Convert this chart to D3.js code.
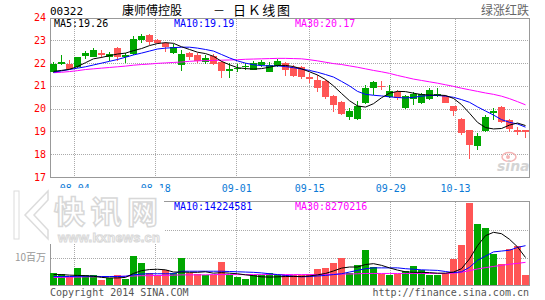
<!DOCTYPE html>
<html>
<head>
<meta charset="utf-8">
<script src="https://cdn.jsdelivr.net/npm/d3@7"></script>
<style>
body { margin: 0; background: #fff; }
text { font-family: "DejaVu Sans Mono", monospace; font-size: 10px; }
.cjk { font-family: "Noto Sans CJK SC", sans-serif; }
</style>
</head>
<body>
<div id="chart"></div>
<script>
const dates = ["07-30","07-31","08-01","08-04","08-05","08-06","08-07","08-08","08-11","08-12",
    "08-13","08-14","08-15","08-18","08-19","08-20","08-21","08-22","08-25","08-26",
    "08-27","08-28","08-29","09-01","09-02","09-03","09-04","09-05","09-08","09-10",
    "09-11","09-12","09-15","09-16","09-17","09-18","09-19","09-22","09-23","09-24",
    "09-25","09-26","09-29","09-30","10-03","10-06","10-07","10-08","10-09","10-10",
    "10-13","10-14","10-15","10-16","10-17","10-20","10-21","10-22","10-23","10-24"]

const open = [21.63,21.95,21.96,21.84,22.33,22.28,22.46,22.28,22.68,22.25,
    22.38,23.02,23.24,23.0,22.87,22.46,21.92,22.44,22.34,22.03,
    22.33,22.06,21.67,21.73,21.83,21.7,21.9,21.63,21.87,22.01,
    21.83,21.82,21.4,21.28,21.22,20.57,20.29,19.62,19.54,20.24,
    20.93,21.0,20.53,20.75,20.02,20.43,20.27,20.43,20.57,20.55,
    20.1,19.56,19.05,18.38,19.0,19.8,20.07,19.49,19.08,19.08]
const high = [22.06,22.36,22.12,22.28,22.52,22.68,22.58,22.48,22.7,22.44,
    23.2,23.27,23.26,23.08,22.94,22.85,22.58,22.5,22.43,22.36,
    22.38,22.1,22.0,21.98,21.99,22.08,22.12,22.05,22.17,22.05,
    21.9,21.88,21.56,21.48,21.25,20.6,20.32,20.03,20.32,21.05,
    21.22,21.2,21.02,20.83,20.62,20.75,20.7,20.9,20.9,20.6,
    20.12,19.6,19.05,18.93,19.72,20.03,20.13,19.55,19.2,19.08]
const low = [21.56,21.92,21.7,21.8,22.2,22.25,22.22,22.1,22.08,22.02,
    22.35,22.88,22.78,22.84,22.47,22.42,21.64,22.14,22.0,21.95,
    21.93,21.36,21.33,21.63,21.7,21.68,21.85,21.62,21.85,21.45,
    21.38,21.3,21.12,20.75,20.43,19.85,19.73,19.52,19.52,20.2,
    20.6,20.83,20.46,20.36,20.0,20.17,20.2,20.4,20.5,20.25,
    19.66,18.86,17.81,18.17,18.97,19.52,19.38,18.96,18.86,18.72]
const close = [21.97,22.06,21.76,22.26,22.46,22.58,22.37,22.42,22.29,22.36,
    23.06,23.2,22.93,22.9,22.73,22.71,22.41,22.27,22.1,22.23,
    21.98,21.67,21.76,21.77,21.87,22.0,22.07,21.9,22.11,21.7,
    21.44,21.37,21.32,20.93,20.53,20.14,19.78,19.91,20.11,20.92,
    21.17,20.94,20.78,20.45,20.57,20.66,20.66,20.8,20.66,20.27,
    19.88,18.93,18.42,18.82,19.62,19.92,19.4,19.1,18.96,18.96]

// moving averages
const ma5 = [21.64,21.68,21.73,21.85,22.02,22.19,22.25,22.33,22.4,22.44,
    22.55,22.64,22.77,22.86,22.9,22.87,22.72,22.6,22.48,22.42,
    22.3,22.08,21.93,21.8,21.76,21.74,21.76,21.82,21.9,21.9,
    21.85,21.75,21.62,21.48,21.28,21.0,20.67,20.35,20.12,20.07,
    20.22,20.48,20.68,20.76,20.75,20.68,20.62,20.6,20.6,20.58,
    20.45,20.18,19.8,19.4,19.17,19.11,19.13,19.28,19.37,19.26]
const ma10 = [21.6,21.66,21.72,21.78,21.84,21.92,22.0,22.08,22.16,22.26,
    22.36,22.44,22.53,22.62,22.66,22.68,22.7,22.7,22.66,22.6,
    22.53,22.38,22.23,22.1,22.0,21.93,21.89,21.88,21.88,21.85,
    21.8,21.74,21.68,21.6,21.5,21.39,21.2,21.0,20.76,20.63,
    20.59,20.56,20.52,20.49,20.47,20.5,20.55,20.58,20.58,20.55,
    20.5,20.4,20.28,20.08,19.9,19.72,19.52,19.4,19.33,19.19]
const ma30 = [21.58,21.6,21.63,21.67,21.72,21.75,21.78,21.81,21.84,21.87,
    21.91,21.94,21.96,21.99,22.01,22.03,22.05,22.08,22.1,22.11,
    22.12,22.13,22.14,22.15,22.17,22.18,22.19,22.2,22.21,22.21,
    22.2,22.19,22.15,22.1,22.04,21.98,21.94,21.88,21.82,21.75,
    21.68,21.62,21.55,21.46,21.38,21.3,21.24,21.18,21.12,21.05,
    20.98,20.9,20.83,20.76,20.69,20.63,20.55,20.44,20.31,20.17]

// volume in millions of shares
const volume = [4.5,4.2,3.1,6.3,3.6,3.6,2.1,2.7,3.7,2.4,
    10.6,8.1,4.3,3.7,5.4,4.5,9.9,4.5,4.2,3.7,
    3.7,8.5,3.9,3.1,2.4,3.7,3.6,4.4,3.7,3.6,
    3.6,3.6,4.2,6.0,6.3,8.1,9.9,4.5,7.4,12.7,
    6.7,4.2,3.9,4.2,5.1,7.0,5.4,3.8,3.8,4.4,
    9.5,14.5,29.5,22.1,20.6,11.4,7.7,13.2,14.0,3.9]
const volMa5 = [3.9,3.9,3.7,3.6,3.5,3.3,2.9,2.7,2.7,2.9,
    4.3,5.3,5.7,5.8,5.6,4.8,4.8,4.7,4.7,4.9,
    4.4,4.6,4.4,4.2,3.8,3.5,3.1,3.0,3.1,3.2,
    3.2,3.2,3.4,3.8,4.3,5.2,6.2,6.6,6.6,7.5,
    7.8,7.2,6.3,5.5,4.9,4.7,4.7,4.6,4.4,4.4,
    4.8,6.0,9.5,14.2,17.8,19.0,18.5,16.5,13.8,10.0]
const volMa10 = [3.2,3.2,3.2,3.3,3.3,3.3,3.2,3.2,3.2,3.3,
    3.8,4.1,4.2,4.2,4.2,4.2,5.1,5.1,5.1,5.1,
    5.1,5.1,5.0,4.9,4.8,4.7,4.5,4.2,3.9,3.6,
    3.3,3.1,3.2,3.4,3.6,3.9,4.2,4.8,5.4,6.0,
    6.3,6.3,6.3,6.3,6.0,5.8,5.6,5.5,5.4,5.0,
    4.6,4.9,6.5,9.0,10.5,12.0,12.3,12.6,13.6,14.224581]
const volMa30 = [2.9,2.9,3.0,3.0,3.1,3.1,3.2,3.2,3.3,3.3,
    3.4,3.5,3.5,3.6,3.6,3.7,3.8,3.8,3.8,3.8,
    3.9,3.9,3.9,3.9,3.9,3.9,3.9,3.9,3.9,3.9,
    3.9,3.9,3.9,3.9,4.0,4.0,4.1,4.1,4.2,4.3,
    4.3,4.3,4.3,4.3,4.3,4.3,4.3,4.3,4.3,4.3,
    4.4,4.7,5.3,5.9,6.4,6.8,7.2,7.6,7.9,8.270216]

const priceTicks = [17,18,19,20,21,22,23,24]
const dateTicks = ["08-04","08-18","09-01","09-15","09-29","10-13"]
const volTicks = [10,20]
const volTickLabels = ["10百万"]

const width = 545
const height = 300
const upColor = "#00a600"
const downColor = "#ff5555"
const gridColor = "#aaaaaa"
const borderColor = "#999999"

let svg = d3.select("#chart").append("svg")
    .attr("width", width)
    .attr("height", height)
    .style("display", "block")

let x = d3.scaleBand()
    .domain(dates)
    .range([50, 529])
    .paddingInner(0.125)
    .paddingOuter(0)

// the date grid uses its own spacing, slightly wider than the candles
let gx = d3.scaleLinear()
    .domain([0, dates.length - 1])
    .range([50, 528])

let y = d3.scaleLinear()
    .domain([17, 24])
    .range([177, 17.6])

let vy = d3.scaleLinear()
    .domain([0, 30])
    .range([285.5, 201.5])

let cx = function (i) { return x(dates[i]) + x.bandwidth() / 2 }
let crisp = function (v) { return Math.round(v) + 0.5 }

/* grids */
let grid = svg.append("g")
    .attr("stroke", gridColor)
    .attr("stroke-dasharray", "1,1")
    .attr("shape-rendering", "crispEdges")

grid.selectAll(".hgrid")
    .data(priceTicks.filter(d => d > 17 && d < 24))
    .enter().append("line")
    .attr("x1", 51).attr("x2", 529)
    .attr("y1", d => crisp(y(d))).attr("y2", d => crisp(y(d)))

grid.selectAll(".vgrid")
    .data(dateTicks)
    .enter().append("line")
    .attr("x1", d => crisp(gx(dates.indexOf(d))))
    .attr("x2", d => crisp(gx(dates.indexOf(d))))
    .attr("y1", 19).attr("y2", 177)

grid.selectAll(".vhgrid")
    .data(volTicks)
    .enter().append("line")
    .attr("x1", 51).attr("x2", 529)
    .attr("y1", d => crisp(vy(d))).attr("y2", d => crisp(vy(d)))

grid.selectAll(".vvgrid")
    .data(dateTicks)
    .enter().append("line")
    .attr("x1", d => crisp(gx(dates.indexOf(d))))
    .attr("x2", d => crisp(gx(dates.indexOf(d))))
    .attr("y1", 202).attr("y2", 285)

/* borders */
svg.append("rect")
    .attr("x", 50.5).attr("y", 18.5)
    .attr("width", 479).attr("height", 159)
    .attr("fill", "none")
    .attr("stroke", borderColor)
    .attr("shape-rendering", "crispEdges")

svg.append("rect")
    .attr("x", 50.5).attr("y", 201.5)
    .attr("width", 479).attr("height", 84)
    .attr("fill", "none")
    .attr("stroke", borderColor)
    .attr("shape-rendering", "crispEdges")

/* candles */
let candle = svg.append("g")
    .attr("shape-rendering", "crispEdges")
    .selectAll("g")
    .data(dates)
    .enter().append("g")
    .attr("fill", (d, i) => close[i] >= open[i] ? upColor : downColor)

candle.append("rect")
    .attr("x", d => x(d) + 3)
    .attr("width", 1)
    .attr("y", (d, i) => y(high[i]))
    .attr("height", (d, i) => y(low[i]) - y(high[i]))

candle.append("rect")
    .attr("x", d => x(d))
    .attr("width", x.bandwidth())
    .attr("y", (d, i) => y(Math.max(open[i], close[i])))
    .attr("height", (d, i) => Math.max(1, Math.abs(y(open[i]) - y(close[i]))))

/* volume bars */
svg.append("g")
    .attr("shape-rendering", "crispEdges")
    .selectAll("rect")
    .data(volume)
    .enter().append("rect")
    .attr("x", (d, i) => x(dates[i]))
    .attr("width", x.bandwidth())
    .attr("y", d => vy(d))
    .attr("height", d => 285 - vy(d))
    .attr("fill", (d, i) => close[i] >= open[i] ? upColor : downColor)

/* moving average lines */
let priceLine = d3.line().x((d, i) => cx(i)).y(d => y(d))
let volLine = d3.line().x((d, i) => cx(i)).y(d => vy(d))

let lines = [
    { data: ma30, color: "#ff00ff", line: priceLine },
    { data: ma10, color: "#0000ff", line: priceLine },
    { data: ma5, color: "#000000", line: priceLine },
    { data: volMa30, color: "#ff00ff", line: volLine },
    { data: volMa10, color: "#0000ff", line: volLine },
    { data: volMa5, color: "#000000", line: volLine }
]

svg.selectAll(".ma")
    .data(lines)
    .enter().append("path")
    .attr("d", d => d.line(d.data))
    .attr("fill", "none")
    .attr("stroke", d => d.color)
    .attr("stroke-width", 1)

/* axis labels */
svg.selectAll(".ylabel")
    .data(priceTicks)
    .enter().append("text")
    .attr("x", 46)
    .attr("y", d => y(d) + 3.5)
    .attr("text-anchor", "end")
    .attr("fill", "#ff0000")
    .text(d => d)

svg.selectAll(".xlabel")
    .data(dateTicks)
    .enter().append("text")
    .attr("x", d => gx(dates.indexOf(d)) + 0.5)
    .attr("y", 191.5)
    .attr("text-anchor", "middle")
    .attr("fill", "#0a7ad6")
    .text(d => d)

svg.selectAll(".vlabel")
    .data(volTickLabels)
    .enter().append("text")
    .attr("class", "cjk")
    .attr("x", 46)
    .attr("y", (d, i) => vy(volTicks[i]) + 3.5)
    .attr("text-anchor", "end")
    .attr("fill", "#999")
    .text(d => d)

/* legends */
let last = arr => arr[arr.length - 1]
let legend = [
    { x: 54, y: 27, color: "#000", text: "MA5:" + last(ma5).toFixed(2) },
    { x: 174, y: 27, color: "#0000ff", text: "MA10:" + last(ma10).toFixed(2) },
    { x: 295, y: 27, color: "#ff00ff", text: "MA30:" + last(ma30).toFixed(2) },
    { x: 174, y: 210, color: "#0000ff", text: "MA10:" + Math.round(last(volMa10) * 1e6) },
    { x: 295, y: 210, color: "#ff00ff", text: "MA30:" + Math.round(last(volMa30) * 1e6) }
]
svg.selectAll(".legend")
    .data(legend)
    .enter().append("text")
    .attr("x", d => d.x)
    .attr("y", d => d.y)
    .attr("fill", d => d.color)
    .text(d => d.text)

/* header and footer */
svg.append("text").attr("x", 50).attr("y", 15).style("font-size", "11px").attr("fill", "#000").text("00322")
svg.append("text").attr("class", "cjk").attr("x", 122).attr("y", 15).style("font-size", "12px").attr("fill", "#000").text("康师傅控股")
svg.append("text").attr("class", "cjk").attr("x", 213).attr("y", 15).style("font-size", "12px").attr("fill", "#000").text("－")
svg.append("text").attr("class", "cjk").attr("x", 233).attr("y", 15).style("font-size", "13px").attr("textLength", 57).attr("fill", "#000").text("日Ｋ线图")
svg.append("text").attr("class", "cjk").attr("x", 529).attr("y", 15).attr("text-anchor", "end").style("font-size", "12px").attr("fill", "#666").text("绿涨红跌")
svg.append("text").attr("x", 50).attr("y", 296).attr("fill", "#555").text("Copyright 2014 SINA.COM")
svg.append("text").attr("x", 529).attr("y", 296).attr("text-anchor", "end").attr("fill", "#555").text("http://finance.sina.com.cn")

/* sina logo */
let sina = svg.append("g")
sina.append("ellipse").attr("cx", 509).attr("cy", 157).attr("rx", 7).attr("ry", 4.5)
    .attr("fill", "none").attr("stroke", "#f5b5b5").attr("stroke-width", 1.5)
sina.append("circle").attr("cx", 508).attr("cy", 157).attr("r", 2).attr("fill", "#f5b5b5")
sina.append("text").attr("x", 497).attr("y", 171)
    .style("font-family", "DejaVu Sans").style("font-size", "14px")
    .style("font-style", "italic").style("font-weight", "bold")
    .attr("fill", "#d4d4d4").text("sina")

/* kxnews watermark laid over the left corner */
let mark = svg.append("g")
mark.append("rect").attr("x", 12).attr("y", 188).attr("width", 152).attr("height", 56).attr("fill", "#fff")
mark.append("rect").attr("x", 14).attr("y", 191).attr("width", 5).attr("height", 48)
    .attr("fill", "#fff").attr("stroke", "#dcdcdc")
mark.append("path").attr("d", "M48,191 L25,215 L48,239 L48,230 L34,215 L48,200 Z")
    .attr("fill", "#fff").attr("stroke", "#dcdcdc").attr("stroke-width", 1.5)
let markText = mark.append("text")
    .attr("fill", "#fff").attr("stroke", "#d8d8d8")
    .style("font-family", "'Liberation Sans', 'Noto Sans CJK SC', sans-serif")
    .style("font-weight", "bold")
markText.append("tspan")
    .attr("x", 54).attr("y", 223)
    .style("font-size", "31px")
    .attr("stroke-width", 1.5)
    .attr("textLength", 104)
    .text("快讯网")
markText.append("tspan")
    .attr("x", 58).attr("y", 242)
    .style("font-size", "13px")
    .attr("stroke-width", 1)
    .attr("textLength", 102)
    .text("www.kxnews.cn")
</script>
</body>
</html>
